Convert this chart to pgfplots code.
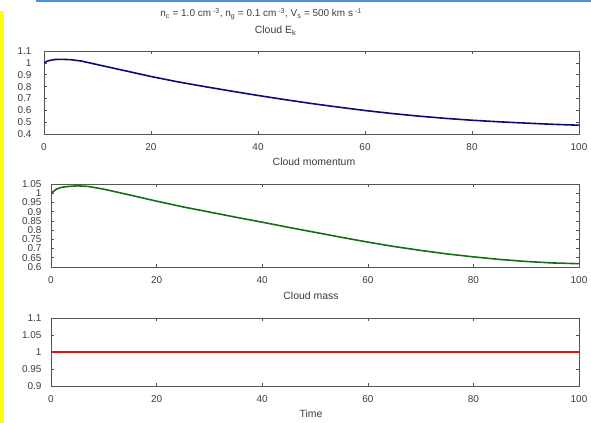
\documentclass[border=0pt]{standalone}
\usepackage{pgfplots}
\pgfplotsset{compat=1.18}
\usepackage{fontspec}
\setmainfont{Liberation Sans}

\definecolor{framegray}{RGB}{85,85,85}
\definecolor{labelgray}{RGB}{60,60,60}
\definecolor{topblue}{RGB}{74,144,217}
\definecolor{scryellow}{RGB}{255,255,0}
\definecolor{ekblue}{RGB}{10,10,120}
\definecolor{massgreen}{RGB}{20,110,20}
\definecolor{timered}{RGB}{225,20,20}

\pgfplotstableread{
x y
0 1.000
0.5 1.012
1 1.020
2 1.028
3 1.030
5 1.027
7 1.015
10 0.985
15 0.935
20 0.885
25 0.840
30 0.800
35 0.762
40 0.725
45 0.690
50 0.657
55 0.627
60 0.598
65 0.573
70 0.551
75 0.532
80 0.516
85 0.503
90 0.492
95 0.482
100 0.474
}\ekdata

\pgfplotstableread{
x y
0 1.000
0.5 1.010
1 1.022
2 1.032
3 1.036
5 1.040
7 1.037
10 1.022
15 0.990
20 0.957
25 0.926
30 0.898
35 0.870
40 0.843
45 0.815
50 0.788
55 0.761
60 0.735
65 0.711
70 0.690
75 0.671
80 0.655
85 0.641
90 0.630
95 0.622
100 0.618
}\massdata

\pgfplotstableread{
x y
0 1
100 1
}\timedata

\begin{document}
\begin{tikzpicture}
\useasboundingbox (0bp,0bp) rectangle (591bp,-423bp);
\fill[scryellow] (0bp,-11bp) rectangle (4bp,-423bp);
\fill[topblue] (36bp,0bp) rectangle (591bp,-1.5bp);

\pgfplotsset{every axis/.append style={
  scale only axis, xmin=0, xmax=100, xtick={0,20,40,60,80,100},
  tick align=inside, major tick length=3bp,
  axis line style={framegray, line width=0.8pt}, tick style={framegray, line width=0.6pt},
  ticklabel style={font=\fontsize{10}{12}\selectfont, text=labelgray},
  /pgf/number format/assume math mode=true,
  xticklabel style={yshift=-6.5bp},
  anchor=south west,
}}

\begin{axis}[at={(44bp,-134bp)}, width=535bp, height=83bp,
  ymin=0.4, ymax=1.1, ytick={0.4,0.5,0.6,0.7,0.8,0.9,1,1.1},
  yticklabel style={xshift=-9bp}]
\addplot[ekblue, line width=1.6pt] table[x=x,y=y] {\ekdata};
\end{axis}

\begin{axis}[at={(51bp,-267bp)}, width=528bp, height=83bp,
  ymin=0.6, ymax=1.05, ytick={0.6,0.65,0.7,0.75,0.8,0.85,0.9,0.95,1,1.05},
  yticklabel style={xshift=-6bp}]
\addplot[massgreen, line width=1.6pt] table[x=x,y=y] {\massdata};
\end{axis}

\begin{axis}[at={(51bp,-386bp)}, width=528bp, height=68bp,
  ymin=0.9, ymax=1.1, ytick={0.9,0.95,1,1.05,1.1},
  yticklabel style={xshift=-6bp}]
\addplot[timered, line width=1.6pt] table[x=x,y=y] {\timedata};
\end{axis}

\begin{scope}[every node/.style={font=\fontsize{10.5}{12}\selectfont, text=labelgray, inner sep=0pt}]
\node[font=\fontsize{10}{12}\selectfont] at (261bp,-14bp) {n\textsubscript{c} = 1.0 cm\textsuperscript{ -3}, n\textsubscript{g} = 0.1 cm\textsuperscript{ -3}, V\textsubscript{s} = 500 km s\textsuperscript{ -1}};
\node at (275.5bp,-31bp) {Cloud E\textsubscript{k}};
\node at (314bp,-162bp) {Cloud momentum};
\node at (311bp,-296bp) {Cloud mass};
\node at (311bp,-414bp) {Time};
\end{scope}
\end{tikzpicture}
\end{document}
